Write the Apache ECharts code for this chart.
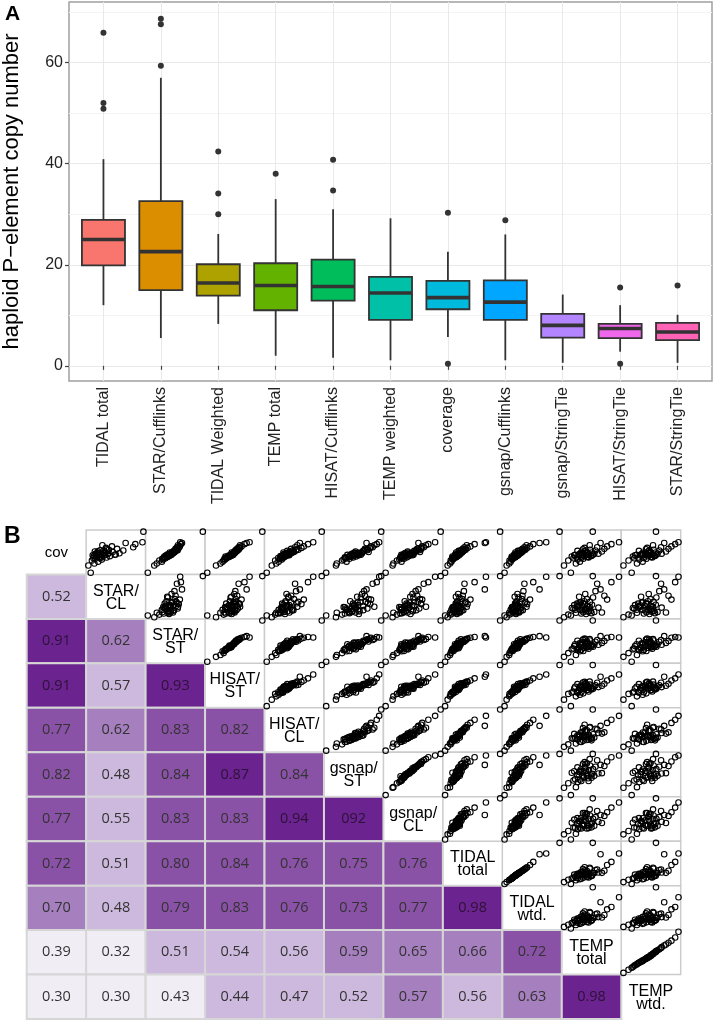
<!DOCTYPE html>
<html>
<head>
<meta charset="utf-8">
<script src="https://cdn.jsdelivr.net/npm/echarts@6/dist/echarts.min.js"></script>
<style>
  html, body { margin: 0; padding: 0; background: #fff; }
  #chart { width: 714px; height: 1022px; }
</style>
</head>
<body>
<div id="chart"></div>
<script>
// ---- panel A : boxplot stats per method ----
const boxCats = ['TIDAL total', 'STAR/Cufflinks', 'TIDAL Weighted', 'TEMP total', 'HISAT/Cufflinks',
  'TEMP weighted', 'coverage', 'gsnap/Cufflinks', 'gsnap/StringTie', 'HISAT/StringTie', 'STAR/StringTie'];
const boxMin = [12.0, 5.5, 8.3, 2.0, 1.6, 1.1, 5.7, 1.1, 0.6, 2.8, 0.6];
const boxQ1  = [19.9, 15.0, 13.9, 11.0, 12.9, 9.1, 11.2, 9.1, 5.6, 5.5, 5.1];
const boxMed = [25.0, 22.6, 16.4, 15.9, 15.7, 14.4, 13.5, 12.6, 8.0, 7.4, 6.7];
const boxQ3  = [28.9, 32.6, 20.1, 20.3, 21.0, 17.6, 16.8, 16.9, 10.3, 8.3, 8.5];
const boxMax = [40.9, 57.0, 26.1, 33.0, 31.0, 29.2, 22.6, 26.0, 14.1, 12.0, 10.1];
const outliers = [[0, 65.9], [0, 52.0], [0, 50.9], [1, 68.7], [1, 67.6], [1, 59.4], [2, 42.4], [2, 34.1],
  [2, 30.0], [3, 38.0], [4, 40.8], [4, 34.7], [6, 30.3], [6, 0.4], [7, 28.8], [9, 15.5], [9, 0.4], [10, 15.9]];
const boxColors = ['#F8766D', '#DB8E00', '#AEA200', '#64B200', '#00BD5C', '#00C1A7',
  '#00BADE', '#00A6FF', '#B385FF', '#EF67EB', '#FF63B6'];
const yTicks = [0, 20, 40, 60];
const yMinor = [10, 30, 50, 70];

// ---- panel B : per-line estimates (same order as the matrix) ----
const pairNames = ['cov', 'STAR/\nCL', 'STAR/\nST', 'HISAT/\nST', 'HISAT/\nCL', 'gsnap/\nST',
  'gsnap/\nCL', 'TIDAL\ntotal', 'TIDAL\nwtd.', 'TEMP\ntotal', 'TEMP\nwtd.'];
const cov = [0.4, 5.7, 7.2, 8.5, 9.3, 10.0, 10.6, 11.0, 11.2, 11.5, 11.9, 12.2, 12.5, 12.8, 13.0, 13.2, 13.4, 13.5, 13.6, 13.8,
  14.0, 14.3, 14.6, 14.9, 15.2, 15.5, 15.9, 16.3, 16.6, 16.8, 17.2, 17.8, 18.5, 19.0, 19.6, 20.4, 21.2, 22.0, 22.6, 30.3,
  12.0, 13.1, 14.2, 15.0, 11.6, 16.0, 13.7, 12.6, 14.7, 17.5];
const starCL = [8.2, 5.5, 12.4, 16.8, 9.6, 21.0, 13.1, 18.5, 11.2, 26.4, 14.0, 19.7, 30.2, 15.2, 23.5, 10.5, 17.1, 35.8, 22.0, 14.6,
  27.9, 20.3, 41.2, 16.0, 24.6, 33.4, 12.9, 22.9, 45.6, 19.0, 29.1, 38.5, 25.7, 57.0, 32.6, 21.6, 59.4, 48.3, 67.6, 68.7,
  18.0, 24.2, 13.6, 28.5, 20.8, 16.4, 36.9, 11.8, 23.0, 27.0];
const starST = [0.6, 2.4, 3.1, 4.5, 3.8, 4.9, 4.6, 5.5, 5.0, 5.3, 6.1, 5.2, 5.8, 6.3, 5.6, 6.5, 7.1, 6.2, 6.8, 6.6,
  7.4, 6.9, 7.2, 7.8, 6.7, 8.1, 7.6, 8.4, 8.0, 8.9, 8.5, 8.3, 9.2, 8.7, 9.5, 9.0, 9.8, 10.1, 9.6, 15.9,
  5.9, 6.4, 7.0, 7.3, 5.4, 7.9, 6.0, 6.6, 7.7, 8.8];
const hisatST = [0.4, 2.8, 4.0, 4.6, 4.9, 5.3, 5.1, 5.7, 5.5, 5.6, 6.4, 5.4, 6.6, 7.0, 6.3, 7.1, 7.5, 6.8, 7.3, 7.2,
  7.6, 7.4, 7.8, 8.0, 7.1, 8.2, 7.9, 8.5, 8.1, 8.8, 8.3, 8.6, 9.3, 9.0, 9.8, 9.4, 10.6, 11.2, 12.0, 15.5,
  6.2, 6.9, 7.6, 7.7, 5.8, 8.4, 7.0, 6.5, 7.9, 9.1];
const hisatCL = [1.6, 5.2, 8.4, 10.1, 7.6, 12.3, 11.0, 13.0, 9.8, 12.6, 14.2, 13.3, 15.0, 12.9, 16.1, 14.6, 13.8, 17.2, 15.3, 16.5,
  14.9, 18.4, 15.7, 19.6, 13.5, 21.0, 17.8, 16.2, 22.5, 20.3, 24.1, 19.0, 26.3, 21.8, 28.0, 23.4, 31.0, 25.2, 34.7, 40.8,
  11.7, 17.6, 14.0, 18.9, 12.2, 20.6, 16.9, 11.4, 15.5, 23.0];
const gsnapST = [0.6, 3.0, 3.2, 5.6, 4.5, 4.9, 6.3, 5.4, 5.2, 7.2, 6.1, 7.9, 6.5, 7.0, 7.4, 8.6, 5.8, 9.1, 6.9, 8.8,
  8.3, 7.7, 9.4, 8.5, 7.6, 11.0, 7.8, 9.7, 9.9, 10.7, 10.3, 10.1, 11.4, 12.0, 11.6, 12.4, 13.0, 10.5, 13.6, 14.1,
  6.8, 8.4, 6.9, 9.0, 5.2, 9.7, 8.2, 6.3, 7.4, 10.8];
const gsnapCL = [1.1, 4.6, 5.0, 9.1, 6.8, 8.0, 10.3, 9.2, 8.5, 11.6, 10.1, 12.4, 10.7, 11.2, 11.8, 13.6, 9.0, 15.1, 10.9, 14.8,
  13.2, 13.1, 14.6, 14.0, 12.3, 18.4, 12.2, 15.5, 16.2, 18.0, 17.3, 17.0, 19.0, 20.3, 19.5, 21.4, 22.6, 17.6, 26.0, 28.8,
  8.6, 14.5, 10.4, 15.4, 8.8, 16.5, 13.5, 9.3, 11.0, 18.9];
const tidalTotal = [12.0, 14.5, 16.8, 18.2, 17.5, 19.6, 20.3, 19.8, 18.9, 22.4, 23.1, 19.2, 24.0, 22.0, 25.2, 23.6, 21.7, 26.1, 24.5, 25.6,
  23.9, 27.0, 24.8, 28.2, 22.8, 28.9, 26.6, 25.3, 30.4, 27.5, 32.1, 29.3, 34.0, 31.0, 36.8, 33.2, 40.9, 50.9, 52.0, 65.9,
  21.2, 24.3, 26.4, 27.2, 20.6, 29.8, 22.6, 23.4, 25.9, 31.6];
const tidalWtd = [8.3, 9.6, 11.2, 12.1, 11.4, 13.0, 13.4, 13.1, 12.6, 14.8, 15.1, 12.8, 15.8, 14.5, 16.5, 15.4, 14.2, 17.0, 16.0, 16.8,
  15.6, 17.7, 16.3, 18.6, 15.0, 19.1, 17.4, 16.6, 20.0, 18.1, 21.2, 19.4, 22.3, 20.6, 24.1, 21.9, 26.1, 30.0, 34.1, 42.4,
  13.7, 15.5, 17.2, 17.9, 13.3, 19.6, 14.6, 15.2, 16.9, 20.8];
const tempTotal = [6.5, 2.0, 9.8, 12.4, 4.8, 11.0, 14.6, 8.2, 13.3, 10.5, 17.8, 7.1, 15.2, 19.6, 11.6, 16.4, 9.3, 21.0, 13.9, 18.3,
  12.2, 24.5, 15.9, 14.1, 20.3, 17.0, 26.8, 10.8, 22.6, 16.1, 19.0, 28.4, 15.5, 23.7, 30.2, 18.8, 33.0, 25.9, 38.0, 20.8,
  16.9, 8.7, 21.8, 13.0, 18.1, 15.6, 11.9, 20.0, 17.4, 14.4];
const tempWtd = [5.3, 1.1, 8.0, 10.9, 3.7, 9.2, 12.8, 6.6, 11.5, 8.6, 15.4, 5.9, 13.6, 16.8, 9.9, 14.4, 7.8, 17.9, 12.1, 16.0,
  10.5, 20.6, 14.0, 12.3, 17.6, 14.9, 22.8, 9.0, 19.4, 14.3, 16.5, 24.1, 13.2, 20.3, 25.6, 16.2, 27.5, 21.9, 29.2, 17.7,
  15.2, 7.0, 18.5, 11.0, 15.8, 13.9, 10.1, 17.2, 15.0, 12.6];
const pairVars = [cov, starCL, starST, hisatST, hisatCL, gsnapST, gsnapCL, tidalTotal, tidalWtd, tempTotal, tempWtd];

// lower triangle: printed correlation and shade class (0 lightest .. 4 darkest)
const corrText = [
  [],
  ['0.52'],
  ['0.91', '0.62'],
  ['0.91', '0.57', '0.93'],
  ['0.77', '0.62', '0.83', '0.82'],
  ['0.82', '0.48', '0.84', '0.87', '0.84'],
  ['0.77', '0.55', '0.83', '0.83', '0.94', '092'],
  ['0.72', '0.51', '0.80', '0.84', '0.76', '0.75', '0.76'],
  ['0.70', '0.48', '0.79', '0.83', '0.76', '0.73', '0.77', '0.98'],
  ['0.39', '0.32', '0.51', '0.54', '0.56', '0.59', '0.65', '0.66', '0.72'],
  ['0.30', '0.30', '0.43', '0.44', '0.47', '0.52', '0.57', '0.56', '0.63', '0.98']
];
const corrShade = [
  [],
  [1],
  [4, 2],
  [4, 1, 4],
  [3, 2, 3, 3],
  [3, 1, 3, 4, 3],
  [3, 1, 3, 3, 4, 4],
  [3, 1, 3, 3, 3, 3, 3],
  [2, 1, 3, 3, 3, 3, 3, 4],
  [0, 0, 1, 1, 1, 2, 2, 2, 3],
  [0, 0, 0, 1, 1, 1, 2, 1, 2, 4]
];
const shadeColors = ['#f1edf5', '#cdb9dd', '#a67fbe', '#8a52a7', '#6b238f'];

const chart = echarts.init(document.getElementById('chart'), null, { renderer: 'canvas' });
const sans = '"Liberation Sans", Arial, sans-serif';

const grids = [
  { left: 69, top: 2, width: 643, height: 379, show: true, borderColor: '#a0a0a0', borderWidth: 1.5,
    backgroundColor: '#fff', outerBoundsMode: 'none', containLabel: false },
  { left: 26.7, top: 530, width: 654, height: 489, outerBoundsMode: 'none' }
];
const xAxes = [
  {
    type: 'value', gridIndex: 0, min: -0.6, max: 10.6, position: 'bottom',
    axisLine: { show: false },
    axisTick: { customValues: boxCats.map((c, i) => i), length: 4, lineStyle: { color: '#444', width: 1.2 } },
    axisLabel: {
      customValues: boxCats.map((c, i) => i), rotate: 90, margin: 6,
      formatter: v => boxCats[Math.round(v)], fontSize: 16, color: '#222', fontFamily: sans
    },
    splitLine: { show: true, lineStyle: { color: '#e9e9e9', width: 1 } }
  },
  { type: 'category', gridIndex: 1, data: pairNames.map((n, i) => i), show: false }
];
const yAxes = [
  {
    type: 'value', gridIndex: 0, min: -3, max: 72, position: 'left',
    axisLine: { show: false },
    axisTick: { show: false, customValues: yMinor },
    axisLabel: { show: false, customValues: yMinor },
    splitLine: { show: true, lineStyle: { color: '#f4f4f4', width: 1 } }
  },
  {
    type: 'value', gridIndex: 0, min: -3, max: 72, position: 'left', offset: 0,
    axisLine: { show: false },
    axisTick: { customValues: yTicks, length: 4, lineStyle: { color: '#444', width: 1.2 } },
    axisLabel: { customValues: yTicks, fontSize: 16, color: '#222', margin: 6, fontFamily: sans },
    splitLine: { show: true, lineStyle: { color: '#e9e9e9', width: 1 } },
    name: 'haploid P\u2212element copy number', nameLocation: 'middle', nameGap: 46,
    nameTextStyle: { fontSize: 22, color: '#000', fontFamily: sans }
  },
  { type: 'category', gridIndex: 1, data: pairNames.map((n, i) => i), inverse: true, show: false }
];

const series = [];

// boxes
series.push({
  type: 'custom', xAxisIndex: 0, yAxisIndex: 1,
  data: boxCats.map((c, i) => [i, boxMin[i], boxQ1[i], boxMed[i], boxQ3[i], boxMax[i]]),
  encode: { x: 0, y: [1, 2, 3, 4, 5] },
  renderItem: (params, api) => {
    const x = api.value(0);
    const pMin = api.coord([x, api.value(1)]);
    const pQ1 = api.coord([x, api.value(2)]);
    const pMed = api.coord([x, api.value(3)]);
    const pQ3 = api.coord([x, api.value(4)]);
    const pMax = api.coord([x, api.value(5)]);
    const hw = api.size([0.75, 0])[0] / 2;
    const stroke = '#333';
    return {
      type: 'group',
      children: [
        { type: 'line', shape: { x1: pMin[0], y1: pMin[1], x2: pQ1[0], y2: pQ1[1] }, style: { stroke, lineWidth: 1.8 } },
        { type: 'line', shape: { x1: pQ3[0], y1: pQ3[1], x2: pMax[0], y2: pMax[1] }, style: { stroke, lineWidth: 1.8 } },
        { type: 'rect', shape: { x: pQ1[0] - hw, y: pQ3[1], width: 2 * hw, height: pQ1[1] - pQ3[1] },
          style: { fill: boxColors[params.dataIndex], stroke, lineWidth: 1.8 } },
        { type: 'line', shape: { x1: pMed[0] - hw, y1: pMed[1], x2: pMed[0] + hw, y2: pMed[1] }, style: { stroke, lineWidth: 3.6 } }
      ]
    };
  }
});
series.push({
  type: 'scatter', xAxisIndex: 0, yAxisIndex: 1, data: outliers,
  symbolSize: 6, itemStyle: { color: '#333', opacity: 1 }
});

// correlation matrix: lower triangle cells + diagonal names
const cells = [];
for (let r = 0; r < 11; r++) {
  for (let c = 0; c <= r; c++) cells.push([c, r]);
}
series.push({
  type: 'custom', xAxisIndex: 1, yAxisIndex: 2, data: cells,
  encode: { x: 0, y: 1 },
  renderItem: (params, api) => {
    const c = api.value(0), r = api.value(1);
    const p = api.coord([c, r]);
    const sz = api.size([1, 1]);
    if (c === r) {
      return {
        type: 'text', x: p[0], y: p[1] + 1,
        style: {
          text: pairNames[r], fill: '#000', align: 'center', verticalAlign: 'middle',
          font: (r === 0 ? '15px ' : '16px ') + sans, lineHeight: 13
        }
      };
    }
    const shade = corrShade[r][c];
    return {
      type: 'group',
      children: [
        { type: 'rect', shape: { x: p[0] - sz[0] / 2, y: p[1] - sz[1] / 2, width: sz[0], height: sz[1] },
          style: { fill: shadeColors[shade], stroke: '#d6d6d6', lineWidth: 2 } },
        { type: 'text', x: p[0], y: p[1],
          style: { text: corrText[r][c], fill: shade === 4 ? '#2c1238' : '#333', align: 'center',
            verticalAlign: 'middle', font: '14.5px "Open Sans", sans-serif' } }
      ]
    };
  }
});

// scatter panels in upper triangle
const x0 = 26.7, y0 = 530, cw = 654 / 11, ch = 489 / 11;
function padRange(arr) {
  const lo = Math.min(...arr), hi = Math.max(...arr);
  const pad = (hi - lo) * 0.04;
  return [lo - pad, hi + pad];
}
for (let r = 0; r < 11; r++) {
  for (let c = r + 1; c < 11; c++) {
    const g = grids.length;
    grids.push({ left: x0 + c * cw, top: y0 + r * ch, width: cw, height: ch, outerBoundsMode: 'none',
      show: true, borderColor: '#cccccc', borderWidth: 1.5, backgroundColor: '#fff' });
    const xr = padRange(pairVars[c]), yr = padRange(pairVars[r]);
    xAxes.push({ type: 'value', gridIndex: g, min: xr[0], max: xr[1], show: false });
    yAxes.push({ type: 'value', gridIndex: g, min: yr[0], max: yr[1], show: false });
    series.push({
      type: 'scatter', xAxisIndex: xAxes.length - 1, yAxisIndex: yAxes.length - 1,
      data: pairVars[c].map((v, i) => [v, pairVars[r][i]]),
      symbolSize: 5.5, silent: true,
      itemStyle: { color: 'rgba(255,255,255,0)', borderColor: '#000', borderWidth: 1.1, opacity: 1 }
    });
  }
}

chart.setOption({
  animation: false,
  grid: grids,
  xAxis: xAxes,
  yAxis: yAxes,
  series: series,
  graphic: [
    { type: 'text', left: 5, top: 4, style: { text: 'A', font: 'bold 21px ' + sans, fill: '#000' } },
    { type: 'text', left: 4, top: 525, style: { text: 'B', font: 'bold 23px ' + sans, fill: '#000' } }
  ]
});
</script>
</body>
</html>
